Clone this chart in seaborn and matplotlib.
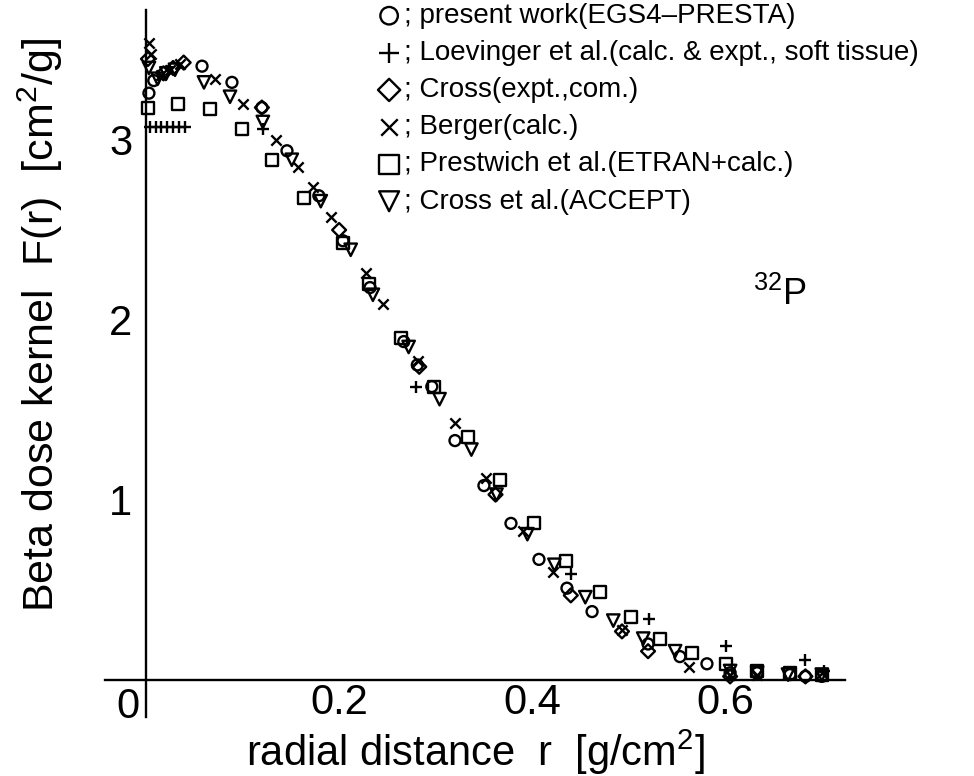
import matplotlib
matplotlib.use("Agg")
import matplotlib.pyplot as plt
import seaborn as sns

# present work (EGS4-PRESTA)
egs4_r = [0.003, 0.008, 0.058, 0.089, 0.120, 0.146, 0.179, 0.204, 0.232, 0.267,
          0.281, 0.296, 0.320, 0.350, 0.378, 0.407, 0.436, 0.462, 0.520, 0.553,
          0.581, 0.605, 0.633, 0.667, 0.683, 0.700]
egs4_F = [3.26, 3.33, 3.41, 3.32, 3.18, 2.94, 2.69, 2.44, 2.18, 1.88,
          1.75, 1.63, 1.33, 1.08, 0.87, 0.67, 0.51, 0.38, 0.20, 0.13,
          0.09, 0.04, 0.04, 0.03, 0.02, 0.02]

# Loevinger et al. (calc. & expt., soft tissue)
loev_r = [0.004, 0.010, 0.016, 0.022, 0.028, 0.034, 0.040, 0.121, 0.280,
          0.440, 0.521, 0.601, 0.683, 0.702]
loev_F = [3.07, 3.07, 3.07, 3.07, 3.07, 3.07, 3.07, 3.06, 1.63,
          0.59, 0.34, 0.19, 0.11, 0.05]

# Cross (expt., com.)
cross_r = [0.002, 0.018, 0.028, 0.039, 0.120, 0.200, 0.283, 0.362, 0.440,
           0.493, 0.520, 0.605, 0.683]
cross_F = [3.45, 3.37, 3.40, 3.43, 3.18, 2.50, 1.74, 1.03, 0.47,
           0.27, 0.16, 0.02, 0.02]

# Berger (calc.)
berger_r = [0.003, 0.005, 0.015, 0.025, 0.035, 0.071, 0.100, 0.135, 0.157,
            0.173, 0.192, 0.228, 0.245, 0.282, 0.320, 0.352, 0.390, 0.422,
            0.493, 0.562, 0.605, 0.633, 0.700]
berger_F = [3.54, 3.48, 3.36, 3.39, 3.42, 3.34, 3.20, 3.00, 2.85,
            2.74, 2.57, 2.26, 2.09, 1.77, 1.43, 1.12, 0.83, 0.60,
            0.28, 0.07, 0.03, 0.03, 0.04]

# Prestwich et al. (ETRAN+calc.)
prest_r = [0.002, 0.033, 0.066, 0.099, 0.130, 0.164, 0.204, 0.231, 0.264,
           0.298, 0.333, 0.367, 0.402, 0.435, 0.470, 0.502, 0.532, 0.566,
           0.601, 0.633, 0.667, 0.700]
prest_F = [3.18, 3.20, 3.17, 3.06, 2.89, 2.68, 2.43, 2.20, 1.90,
           1.63, 1.35, 1.11, 0.87, 0.66, 0.49, 0.35, 0.23, 0.15,
           0.09, 0.05, 0.04, 0.03]

# Cross et al. (ACCEPT)
accept_r = [0.003, 0.012, 0.021, 0.030, 0.060, 0.087, 0.121, 0.151, 0.181,
            0.212, 0.235, 0.272, 0.304, 0.337, 0.363, 0.395, 0.423, 0.455,
            0.484, 0.515, 0.548, 0.605, 0.633, 0.665, 0.700]
accept_F = [3.40, 3.34, 3.37, 3.39, 3.32, 3.24, 3.10, 2.89, 2.66,
            2.39, 2.14, 1.85, 1.56, 1.28, 1.03, 0.81, 0.64, 0.46,
            0.33, 0.23, 0.16, 0.05, 0.04, 0.03, 0.03]

series_labels = [
    "; present work(EGS4\u2013PRESTA)",
    "; Loevinger et al.(calc. & expt., soft tissue)",
    "; Cross(expt.,com.)",
    "; Berger(calc.)",
    "; Prestwich et al.(ETRAN+calc.)",
    "; Cross et al.(ACCEPT)",
]

x_ticks = [0.2, 0.4, 0.6]
y_ticks = [1, 2, 3]

sns.set_theme(style="white")
plt.rcParams["font.family"] = ["Liberation Sans", "DejaVu Sans"]
plt.rcParams["mathtext.fontset"] = "custom"
plt.rcParams["mathtext.rm"] = "Liberation Sans"
plt.rcParams["mathtext.it"] = "Liberation Sans:italic"
plt.rcParams["mathtext.bf"] = "Liberation Sans:bold"

fig = plt.figure(figsize=(9.74, 7.76), dpi=100)
ax = fig.add_axes([105 / 974, 1 - 717 / 776, 740 / 974, 707 / 776])
ax.set_facecolor("white")

lw = 1.7
hollow = dict(facecolor="none", edgecolor="black", linewidth=lw)
sns.scatterplot(x=egs4_r, y=egs4_F, marker="o", s=62, ax=ax,
                label=series_labels[0], **hollow)
sns.scatterplot(x=loev_r, y=loev_F, marker="+", s=85, color="black",
                linewidth=lw, ax=ax, label=series_labels[1])
sns.scatterplot(x=cross_r, y=cross_F, marker="D", s=50, ax=ax,
                label=series_labels[2], **hollow)
sns.scatterplot(x=berger_r, y=berger_F, marker="x", s=55, color="black",
                linewidth=lw, ax=ax, label=series_labels[3])
sns.scatterplot(x=prest_r, y=prest_F, marker="s", s=75, ax=ax,
                label=series_labels[4], **hollow)
sns.scatterplot(x=accept_r, y=accept_F, marker="v", s=80, ax=ax,
                label=series_labels[5], **hollow)

ax.set_xlim(-0.0425, 0.724)
ax.set_ylim(-0.2056, 3.722)

# axes drawn through the origin
for side in ("top", "right"):
    ax.spines[side].set_visible(False)
for side in ("left", "bottom"):
    ax.spines[side].set_position(("data", 0))
    ax.spines[side].set_color("black")
    ax.spines[side].set_linewidth(1.7)

ax.set_xticks([0] + x_ticks)
ax.set_xticklabels([""] + [f"{v:.1f}" for v in x_ticks])
ax.set_xticks([0.1, 0.3, 0.5], minor=True)
ax.set_yticks([0] + y_ticks)
ax.set_yticklabels([""] + [str(v) for v in y_ticks])
ax.set_yticks([0.5, 1.5, 2.5], minor=True)
ax.tick_params(which="both", direction="in", color="black", width=1.7,
               labelsize=30, labelcolor="black")
ax.tick_params(axis="x", which="major", length=11, pad=2)
ax.tick_params(axis="x", which="minor", length=11)
ax.tick_params(axis="y", which="major", length=9, pad=10)
ax.tick_params(axis="y", which="minor", length=6)

# origin label sits to the left of the vertical axis
ax.text(-0.0185, 0.0425, "0", transform=ax.get_xaxis_transform(),
        ha="center", va="top", fontsize=30, color="black")

ax.set_xlabel("radial distance  r  [g/cm$^2$]", fontsize=30, color="black",
              va="center")
ax.xaxis.set_label_coords(0.5, -0.0495)
ax.set_ylabel("Beta dose kernel  F(r)  [cm$^2$/g]", fontsize=31,
              color="black", va="center", rotation_mode="anchor")
ax.yaxis.set_label_coords(-0.088, 0.5545)

ax.text(0.656, 2.14, "$^{32}$P", fontsize=26, color="black",
        ha="center", va="center")

leg = ax.legend(loc="upper left", bbox_to_anchor=(378 / 974, 1 - 3 / 776),
                bbox_transform=fig.transFigure, frameon=False, fontsize=20,
                handlelength=0.8, handletextpad=0.15, labelspacing=0.4,
                borderpad=0, borderaxespad=0, markerscale=1.6)
for t in leg.get_texts():
    t.set_color("black")

fig.savefig("out.png", dpi=100, facecolor="white")
